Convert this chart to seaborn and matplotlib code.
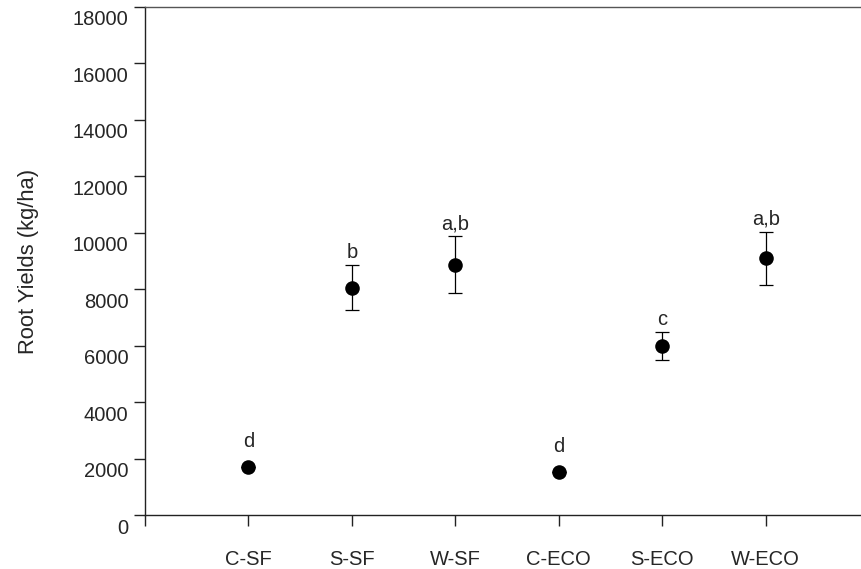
import numpy as np
import pandas as pd
import seaborn as sns
import matplotlib.pyplot as plt
from matplotlib.transforms import ScaledTranslation

# dados
tratamentos = ["C-SF", "S-SF", "W-SF", "C-ECO", "S-ECO", "W-ECO"]
produtividade = [1700, 8050, 8870, 1530, 6000, 9090]
erro = [0, 800, 1000, 0, 500, 950]
letras = ["d", "b", "a,b", "d", "c", "a,b"]

df = pd.DataFrame({"Tratamento": tratamentos, "Produtividade": produtividade, "Erro": erro})
df["pos"] = np.arange(1, len(df) + 1)

sns.set_style("ticks")
plt.rcParams["font.family"] = ["Liberation Sans", "DejaVu Sans"]

fig = plt.figure(figsize=(8.61, 5.69), dpi=100)
ax = fig.add_axes([0.1684, 0.0949, 0.841, 0.893])

ax.errorbar(df["pos"], df["Produtividade"], yerr=df["Erro"], fmt="none",
            ecolor="black", elinewidth=0.9, capsize=5, capthick=0.9, zorder=2)
sns.scatterplot(x="pos", y="Produtividade", data=df, ax=ax, color="black",
                s=110, edgecolor="black", linewidth=0, zorder=3, legend=False)

for i, row in df.iterrows():
    topo = row["Produtividade"] + max(row["Erro"], 450)
    ax.annotate(letras[i], (row["pos"], topo), xytext=(0, 5), textcoords="offset points",
                ha="center", va="baseline", fontsize=14.5)

ax.set_xlim(0, len(df) + 1)
ax.set_ylim(0, 18000)
ax.set_yticks(range(0, 18001, 2000))
ax.set_xticks(np.arange(0, len(df) + 1))
ax.set_xticklabels([""] + tratamentos)
ax.tick_params(axis="x", length=8, width=1, pad=17, labelsize=14.5, color="#222222")
ax.tick_params(axis="y", length=8, width=1, pad=4, labelsize=14.5, color="#222222")
ax.set_xlabel("")
ax.set_ylabel("Root Yields (kg/ha)", fontsize=15.8, labelpad=24)

# rótulos do eixo y ficam um pouco abaixo dos ticks, como no original
desloca = ScaledTranslation(0, -0.11, fig.dpi_scale_trans)
for rotulo in ax.get_yticklabels():
    rotulo.set_transform(rotulo.get_transform() + desloca)

for lado in ["left", "bottom", "top"]:
    ax.spines[lado].set_color("#222222")
    ax.spines[lado].set_linewidth(1)
ax.spines["top"].set_color("#555555")
ax.spines["right"].set_visible(False)

fig.savefig("out.png", dpi=100)
